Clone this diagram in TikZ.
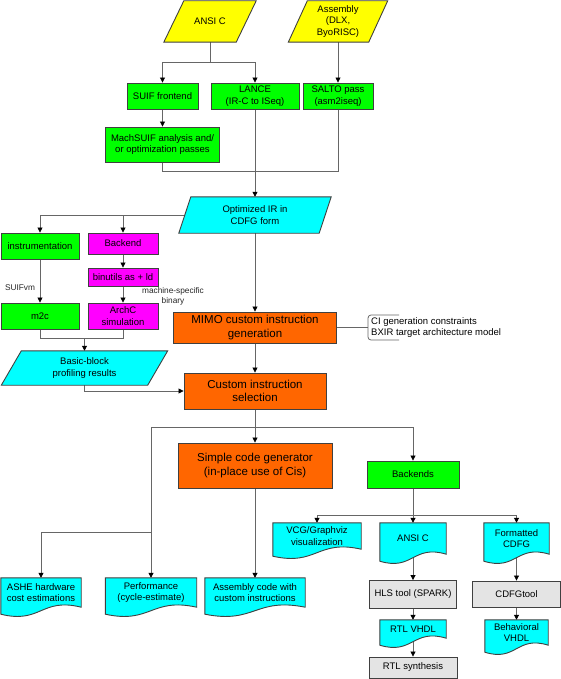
\documentclass[tikz,border=0pt]{standalone}
\usepackage{fontspec}
\setmainfont{Liberation Sans}
\usetikzlibrary{arrows.meta,calc}
\pgfdeclarelayer{edges}
\pgfdeclarelayer{bg}
\pgfsetlayers{edges,bg,main}
\definecolor{cyel}{HTML}{FFFF00}
\definecolor{cgrn}{HTML}{00FF00}
\definecolor{ccya}{HTML}{00FFFF}
\definecolor{cmag}{HTML}{FF00FF}
\definecolor{corg}{HTML}{FF6600}
\definecolor{cgry}{HTML}{E4E4E4}
\definecolor{bord}{HTML}{404040}
\definecolor{edgec}{HTML}{666666}
\tikzset{
  base/.style={inner sep=1pt, align=center, font=\fontsize{9.5}{11.5}\selectfont, text=black},
  box/.style={base, rectangle, draw=bord, line width=0.9pt},
  bigbox/.style={box, fill=corg, font=\fontsize{11.5}{13.5}\selectfont},
  ghost/.style={base, rectangle, draw=none},
  shapeline/.style={draw=bord, line width=0.9pt},
  line/.style={draw=edgec, line width=0.8pt},
  arr/.style={line, -{Triangle[length=5pt,width=5pt,color=black]}},
  small/.style={inner sep=0pt, align=center, font=\fontsize{8.3}{10.5}\selectfont, text=black!85},
  wh/.style 2 args={minimum width=#1, minimum height=#2}
}
\newcommand\parash[3]{%
  \begin{pgfonlayer}{bg}
  \path[shapeline, fill=#3] ($(#1.north west)+(#2/2,0)$) -- ($(#1.north east)+(#2/2,0)$)
     -- ($(#1.south east)-(#2/2,0)$) -- ($(#1.south west)-(#2/2,0)$) -- cycle;
  \end{pgfonlayer}}
\newcommand\docsh[2]{%
  \begin{pgfonlayer}{bg}
  \path[shapeline, fill=#2] ($(#1.south west)+(0,7)$) -- (#1.north west) -- (#1.north east)
     -- (#1.south east) .. controls ($(#1.south)+(0,-10)$) and ($(#1.south)+(0,17)$) .. ($(#1.south west)+(0,7)$) -- cycle;
  \end{pgfonlayer}}
\begin{document}
\begin{tikzpicture}[x=1pt, y=-1pt]
\useasboundingbox (0,0) rectangle (561,679);

% top inputs
\node[ghost, wh={72pt}{41pt}] (ansi) at (210,21.5) {ANSI C};
\parash{ansi}{20}{cyel}
\node[ghost, wh={80pt}{41pt}] (asm) at (338,21.5) {Assembly\\(DLX,\\ByoRISC)};
\parash{asm}{19}{cyel}

\node[box, fill=cgrn, wh={71pt}{26pt}] (suif) at (162.5,96) {SUIF frontend};
\node[box, fill=cgrn, wh={88pt}{26pt}] (lance) at (255,96) {LANCE\\(IR-C to ISeq)};
\node[box, fill=cgrn, wh={70pt}{26pt}] (salto) at (338,96) {SALTO pass\\(asm2iseq)};
\node[box, fill=cgrn, wh={114pt}{35pt}] (machsuif) at (162.5,144.5) {MachSUIF analysis and/\\or optimization passes};

\node[ghost, wh={140pt}{36pt}] (ir) at (255,215) {Optimized IR in\\CDFG form};
\parash{ir}{12}{ccya}

\node[box, fill=cgrn, wh={78pt}{26pt}] (instr) at (40,246) {instrumentation};
\node[box, fill=cmag, wh={70pt}{21pt}] (backend) at (123,243.5) {Backend};
\node[box, fill=cmag, wh={70pt}{18pt}] (binutils) at (123,277) {binutils as + ld};
\node[box, fill=cmag, wh={70pt}{26pt}] (archc) at (123,316) {ArchC\\simulation};
\node[box, fill=cgrn, wh={78pt}{26pt}] (m2c) at (40,316) {m2c};
\node[small] (suifvm) at (20,288) {SUIFvm};
\node[small] (msb) at (173,296.5) {machine-specific\\binary};

\node[ghost, wh={146pt}{34pt}] (bb) at (84.5,368) {Basic-block\\profiling results};
\parash{bb}{20}{ccya}

\node[bigbox, wh={163pt}{31pt}] (mimo) at (255,327.5) {MIMO custom instruction\\generation};
\node[base, anchor=west, align=left] (cinote) at (370,327.5) {CI generation constraints\\BXIR target architecture model};
\coordinate (br) at (368,327.5);

\node[bigbox, wh={142pt}{36pt}] (cis) at (255,391) {Custom instruction\\selection};
\node[bigbox, wh={154pt}{45pt}] (scg) at (255,465.5) {Simple code generator\\(in-place use of Cis)};
\node[box, fill=cgrn, wh={92pt}{27pt}] (backends) at (413,474.5) {Backends};

\node[ghost, wh={88pt}{26pt}] (vcg) at (317,536) {VCG/Graphviz\\visualization};
\docsh{vcg}{ccya}
\node[ghost, wh={66pt}{31pt}] (ansic2) at (413,538.5) {ANSI C};
\docsh{ansic2}{ccya}
\node[ghost, wh={65pt}{31pt}] (fcdfg) at (516.5,538.5) {Formatted\\CDFG};
\docsh{fcdfg}{ccya}

\node[ghost, wh={80pt}{29pt}] (ashe) at (41,592.5) {ASHE hardware\\cost estimations};
\docsh{ashe}{ccya}
\node[ghost, wh={91pt}{29pt}] (perf) at (151,592.5) {Performance\\(cycle-estimate)};
\docsh{perf}{ccya}
\node[ghost, wh={100pt}{29pt}] (asmcode) at (255,592.5) {Assembly code with\\custom instructions};
\docsh{asmcode}{ccya}

\node[box, fill=cgry, wh={87pt}{28pt}] (hls) at (413,594.5) {HLS tool (SPARK)};
\node[ghost, wh={66pt}{18pt}] (rtlvhdl) at (413,629) {RTL VHDL};
\docsh{rtlvhdl}{ccya}
\node[box, fill=cgry, wh={88pt}{21pt}] (rtlsyn) at (413,667.5) {RTL synthesis};
\node[box, fill=cgry, wh={88pt}{26pt}] (cdfgtool) at (516.5,594) {CDFGtool};
\node[ghost, wh={63pt}{25pt}] (behav) at (516.5,632.5) {Behavioral\\VHDL};
\docsh{behav}{ccya}

\coordinate (j1) at (210,62);
\coordinate (j2) at (338,171);
\coordinate (j3) at (84.5,338);
\coordinate (j4) at (255,427);
\coordinate (j5) at (413,515);
\coordinate (j6) at (151,532);

\begin{pgfonlayer}{edges}
\draw[line] (ansi.south) -- (j1);
\draw[arr] (j1) -| (suif.north);
\draw[arr] (j1) -| (lance.north);
\draw[arr] (asm.south) -- (salto.north);
\draw[arr] (suif.south) -- (machsuif.north);
\draw[line] (machsuif.south) |- (j2) -- (salto.south);
\draw[arr] (lance.south) -- (ir.north);
\draw[arr] (ir.west) -| (instr.north);
\draw[arr] (ir.west) -| (backend.north);
\draw[arr] (backend.south) -- (binutils.north);
\draw[arr] (binutils.south) -- (archc.north);
\draw[arr] (instr.south) -- (m2c.north);
\draw[line] (m2c.south) |- (j3);
\draw[line] (archc.south) |- (j3);
\draw[arr] (j3) -- (bb.north);
\draw[arr] (bb.south) |- (cis.west);
\draw[arr] (ir.south) -- (mimo.north);
\draw[arr] (mimo.south) -- (cis.north);
\draw[line] (mimo.east) -- (br);
\draw[line, rounded corners=3pt] (399,315) -- (368,315) -- (368,340) -- (399,340);
\draw[line] (cis.south) -- (j4);
\draw[arr] (j4) -- (scg.north);
\draw[arr] (j4) -| (backends.north);
\draw[arr] (j4) -| (perf.north);
\draw[arr] (j6) -| (ashe.north);
\draw[arr] (scg.south) -- (asmcode.north);
\draw[line] (backends.south) -- (j5);
\draw[arr] (j5) -| (vcg.north);
\draw[arr] (j5) -- (ansic2.north);
\draw[arr] (j5) -| (fcdfg.north);
\draw[arr] (ansic2.south) -- (hls.north);
\draw[arr] (hls.south) -- (rtlvhdl.north);
\draw[arr] (rtlvhdl.south) -- (rtlsyn.north);
\draw[arr] (fcdfg.south) -- (cdfgtool.north);
\draw[arr] (cdfgtool.south) -- (behav.north);
\end{pgfonlayer}
\end{tikzpicture}
\end{document}
